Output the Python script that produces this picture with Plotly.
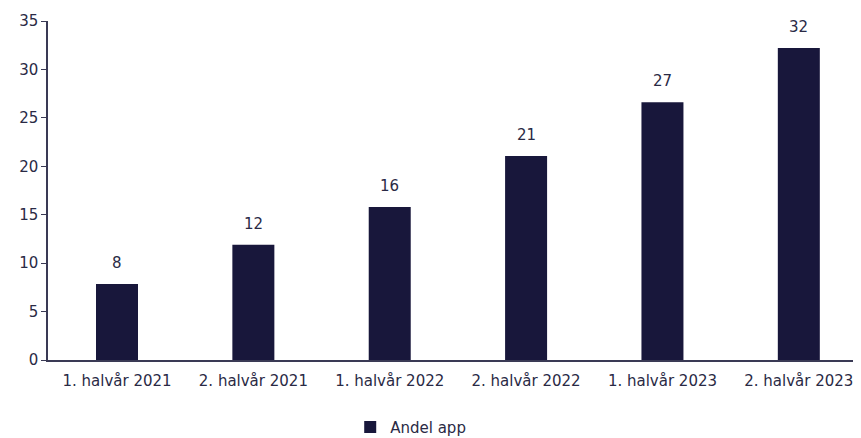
import plotly.graph_objects as go

categories = ["1. halvår 2021", "2. halvår 2021", "1. halvår 2022",
              "2. halvår 2022", "1. halvår 2023", "2. halvår 2023"]
andel_app = [7.85, 11.9, 15.8, 21.05, 26.6, 32.2]

navy = "#18173b"
text_col = "#2a2a45"
font_family = "DejaVu Sans, sans-serif"
fs = 15

fig = go.Figure()
fig.add_trace(go.Bar(
    x=categories, y=andel_app, name="Andel app",
    marker=dict(color=navy, line=dict(width=0)),
    width=0.308,
))

for c, v in zip(categories, andel_app):
    fig.add_annotation(x=c, y=v, text=f"{round(v)}", showarrow=False,
                       yanchor="bottom", yshift=10,
                       font=dict(size=fs, color=text_col, family=font_family))

fig.update_layout(
    width=861, height=438,
    margin=dict(l=40, r=2, t=13, b=86, autoexpand=False),
    plot_bgcolor="white", paper_bgcolor="white",
    font=dict(family=font_family, size=fs, color=text_col),
    showlegend=True,
    legend=dict(orientation="h", x=0.369, xanchor="left", y=-0.15, yanchor="top",
                font=dict(size=fs, color=text_col, family=font_family),
                itemwidth=30),
)
fig.update_yaxes(range=[0, 35], dtick=5, showgrid=False, showline=True,
                 linecolor="#3a3a55", linewidth=1.5, ticks="outside",
                 ticklen=5, tickcolor="#3a3a55", zeroline=False, automargin=False,
                 tickfont=dict(size=fs, color=text_col))
fig.update_xaxes(range=[-0.506, 5.5], showline=True, linecolor="#3a3a55",
                 linewidth=1.5, ticks="", automargin=False, ticklabelstandoff=6,
                 tickfont=dict(size=fs, color=text_col))

fig.write_html("out.html")
